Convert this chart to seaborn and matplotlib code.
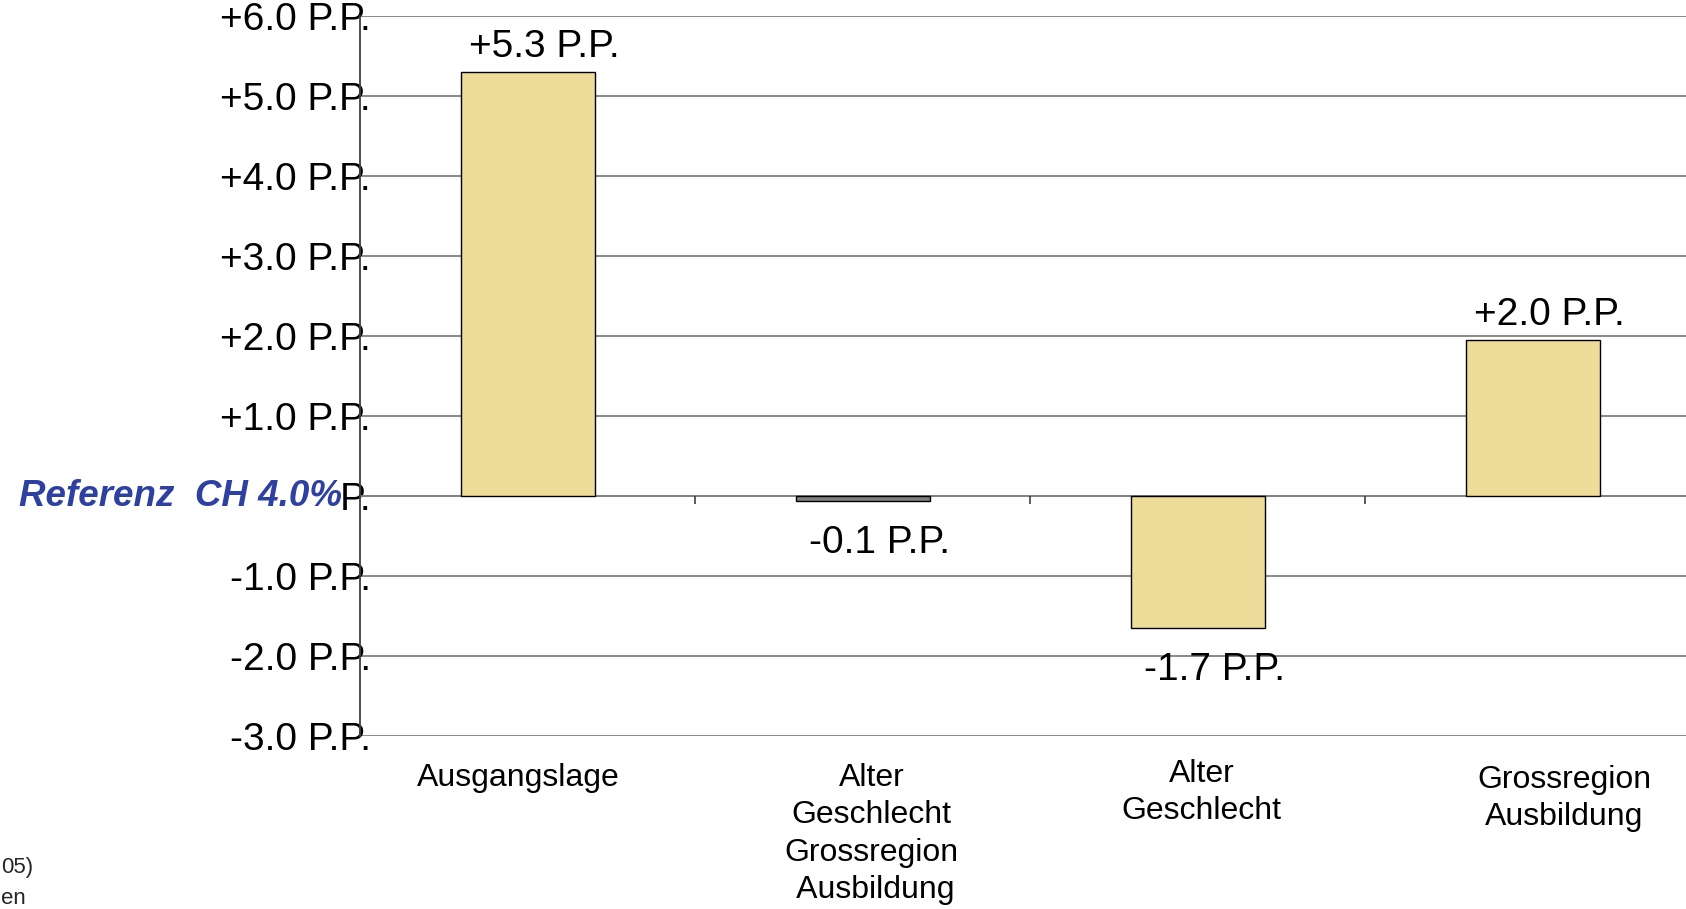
import matplotlib
matplotlib.use("Agg")
import matplotlib.pyplot as plt
import matplotlib.transforms as mtransforms
import seaborn as sns
import pandas as pd

# ---- data ----
categories = ["Ausgangslage",
              "Alter\nGeschlecht\nGrossregion\n Ausbildung",
              "Alter\nGeschlecht",
              "Grossregion\nAusbildung"]
values = [5.3, -0.06, -1.65, 1.95]
value_labels = ["+5.3 P.P.", "-0.1 P.P.", "-1.7 P.P.", "+2.0 P.P."]
bar_colors = ["#EEDC9A", "#808080", "#EEDC9A", "#EEDC9A"]
yticks = [-3, -2, -1, 0, 1, 2, 3, 4, 5, 6]
ytick_labels = ["-3.0 P.P.", "-2.0 P.P.", "-1.0 P.P.", "P.", "+1.0 P.P.",
                "+2.0 P.P.", "+3.0 P.P.", "+4.0 P.P.", "+5.0 P.P.", "+6.0 P.P."]
reference_label = "Referenz  CH 4.0%"
footnotes = ["05)", "en"]

sns.set_style("white")
plt.rcParams["font.family"] = ["Liberation Sans", "DejaVu Sans"]

W, H = 1686, 909
fig = plt.figure(figsize=(W / 100, H / 100), dpi=100)
ax = fig.add_axes([360 / W, (H - 736) / H, 1340 / W, 720 / H])

df = pd.DataFrame({"cat": categories, "val": values})
sns.barplot(data=df, x="cat", y="val", hue="cat", palette=bar_colors,
            order=categories, hue_order=categories, legend=False,
            width=0.4, edgecolor="black", linewidth=1.0, saturation=1,
            ax=ax, zorder=3)

ax.set_xlim(-0.5, len(categories) - 0.5)
ax.set_ylim(min(yticks), max(yticks))
ax.set_yticks(yticks)
ax.set_yticklabels(ytick_labels)
ax.tick_params(axis="y", length=0, pad=-8, labelsize=28, labelcolor="black")
ax.tick_params(axis="x", length=0, pad=19.5, labelsize=23, labelcolor="black")
ax.set_xlabel("")
ax.set_ylabel("")

# per-label nudges (pixels) to mimic the original label placement
label_nudges = [(-9, 0), (9, 0), (4, 4), (32, -2)]
for lbl, (dx, dy) in zip(ax.get_xticklabels(), label_nudges):
    lbl.set_linespacing(1.32)
    lbl.set_transform(lbl.get_transform() +
                      mtransforms.ScaledTranslation(dx / 100, dy / 100, fig.dpi_scale_trans))

ax.set_axisbelow(True)
ax.yaxis.grid(True, color="#808080", linewidth=1.3)
ax.xaxis.grid(False)
for s in ["top", "right", "bottom"]:
    ax.spines[s].set_visible(False)
ax.spines["left"].set_color("#404040")
ax.spines["left"].set_linewidth(1.3)

# zero line + category boundary ticks
ax.axhline(0, color="#808080", linewidth=1.3, zorder=2)
bounds = [i + 0.5 for i in range(len(categories) - 1)]
ax.vlines(bounds, -0.1, 0, color="#404040", linewidth=1.2, zorder=2)

# value labels
for i, (v, lab) in enumerate(zip(values, value_labels)):
    off = (12, 18) if v >= 0 else (12, -30.5)
    ax.annotate(lab, xy=(i, v), xytext=off, textcoords="offset points",
                ha="center", va="center", fontsize=28, color="black")

# reference label at zero
trans = mtransforms.blended_transform_factory(ax.transAxes, ax.transData)
ax.text(-18 / 1340, 0, reference_label, transform=trans, ha="right", va="center",
        fontsize=26.5, fontweight="bold", fontstyle="italic", color="#2E40A0",
        zorder=10, clip_on=False,
        bbox=dict(facecolor="white", edgecolor="none", pad=0))

# footnote fragments at the lower left
fig.text(1 / W, 1 - 868 / H, footnotes[0], ha="left", va="center", fontsize=16)
fig.text(1 / W, 1 - 898 / H, footnotes[1], ha="left", va="center", fontsize=16)

fig.savefig("out.png", dpi=100)
